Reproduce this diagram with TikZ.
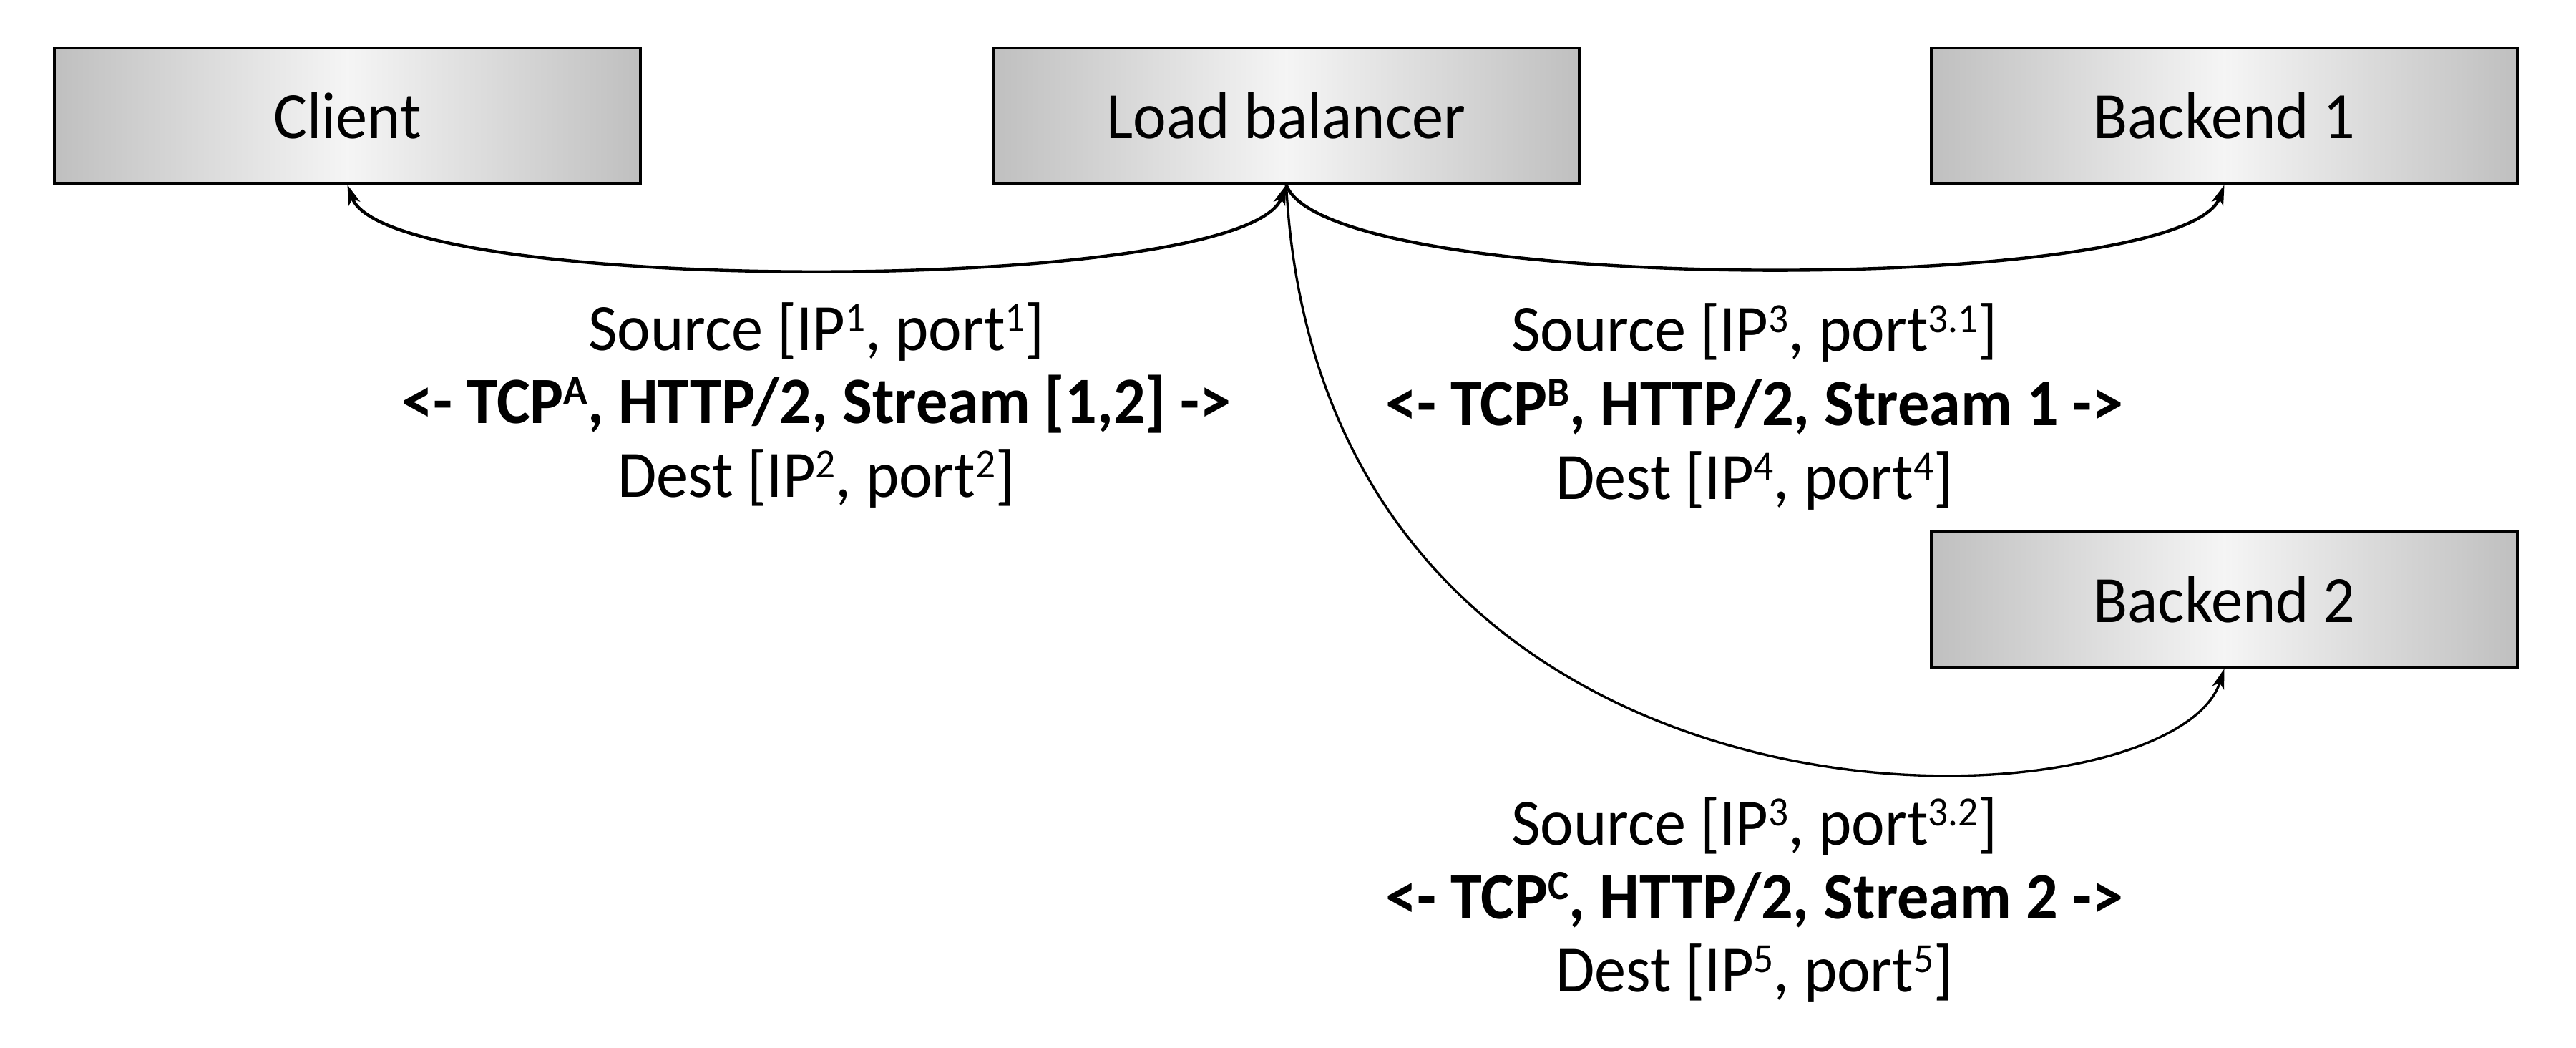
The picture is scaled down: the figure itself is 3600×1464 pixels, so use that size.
\documentclass[tikz,border=0pt]{standalone}
\usepackage{fontspec}
\setmainfont{Carlito}[FakeStretch=0.955]
\usetikzlibrary{arrows.meta}
\newcommand{\spx}[1]{\raisebox{0.265cm}{\fontsize{16.5pt}{16.5pt}\selectfont #1}}
\begin{document}
\begin{tikzpicture}[x=0.01cm,y=-0.01cm,
  box/.style={draw=black, line width=1.2pt, minimum width=8.19cm, minimum height=1.89cm,
    inner sep=0pt, left color=gray!50, right color=gray!50, middle color=gray!8,
    font=\fontsize{26.3pt}{30pt}\selectfont},
  lbl/.style={anchor=base, inner sep=0pt, font=\fontsize{26.3pt}{30pt}\selectfont},
  blbl/.style={lbl, font=\fontsize{26.3pt}{30pt}\selectfont\bfseries},
  conn/.style={draw=black, line width=1.25pt},
  connthin/.style={draw=black, line width=0.95pt}
]
\fill[white] (0,0) rectangle (3600,1464);
\useasboundingbox (0,0) rectangle (3600,1464);

\node[box] (client) at (485.5,161.5) {Client};
\node[box] (lb) at (1797.5,161.5) {Load balancer};
\node[box] (b1) at (3108.5,161.5) {Backend 1};
\node[box] (b2) at (3108.5,837.5) {Backend 2};

\draw[conn, {Stealth[length=0.28cm, width=0.17cm, inset=0.07cm]}-{Stealth[length=0.28cm, width=0.17cm, inset=0.07cm]}]
  (lb.south) to[out=-110, in=-70, distance=1.66cm] (client.south);
\draw[conn, -{Stealth[length=0.28cm, width=0.17cm, inset=0.07cm]}]
  (lb.south) to[out=-70, in=-110, distance=1.66cm] (b1.south);
\draw[connthin, -{Stealth[length=0.28cm, width=0.17cm, inset=0.07cm]}]
  (lb.south) to[out=-87, in=-108, out distance=9.63cm, in distance=2.49cm] (b2.south);

\node[lbl] (s1) at (1141,489) {Source [IP\spx{1}, port\spx{1}]};
\node[blbl] (t1) at (1141,591) {<- TCP\spx{A}, HTTP/2, Stream [1,2] ->};
\node[lbl] (d1) at (1141,694) {Dest [IP\spx{2}, port\spx{2}]};

\node[lbl] (s2) at (2452,491) {Source [IP\spx{3}, port\spx{3.1}]};
\node[blbl] (t2) at (2452,594) {<- TCP\spx{B}, HTTP/2, Stream 1 ->};
\node[lbl] (d2) at (2452,697) {Dest [IP\spx{4}, port\spx{4}]};

\node[lbl] (s3) at (2452,1180) {Source [IP\spx{3}, port\spx{3.2}]};
\node[blbl] (t3) at (2452,1283) {<- TCP\spx{C}, HTTP/2, Stream 2 ->};
\node[lbl] (d3) at (2452,1385) {Dest [IP\spx{5}, port\spx{5}]};
\end{tikzpicture}
\end{document}
